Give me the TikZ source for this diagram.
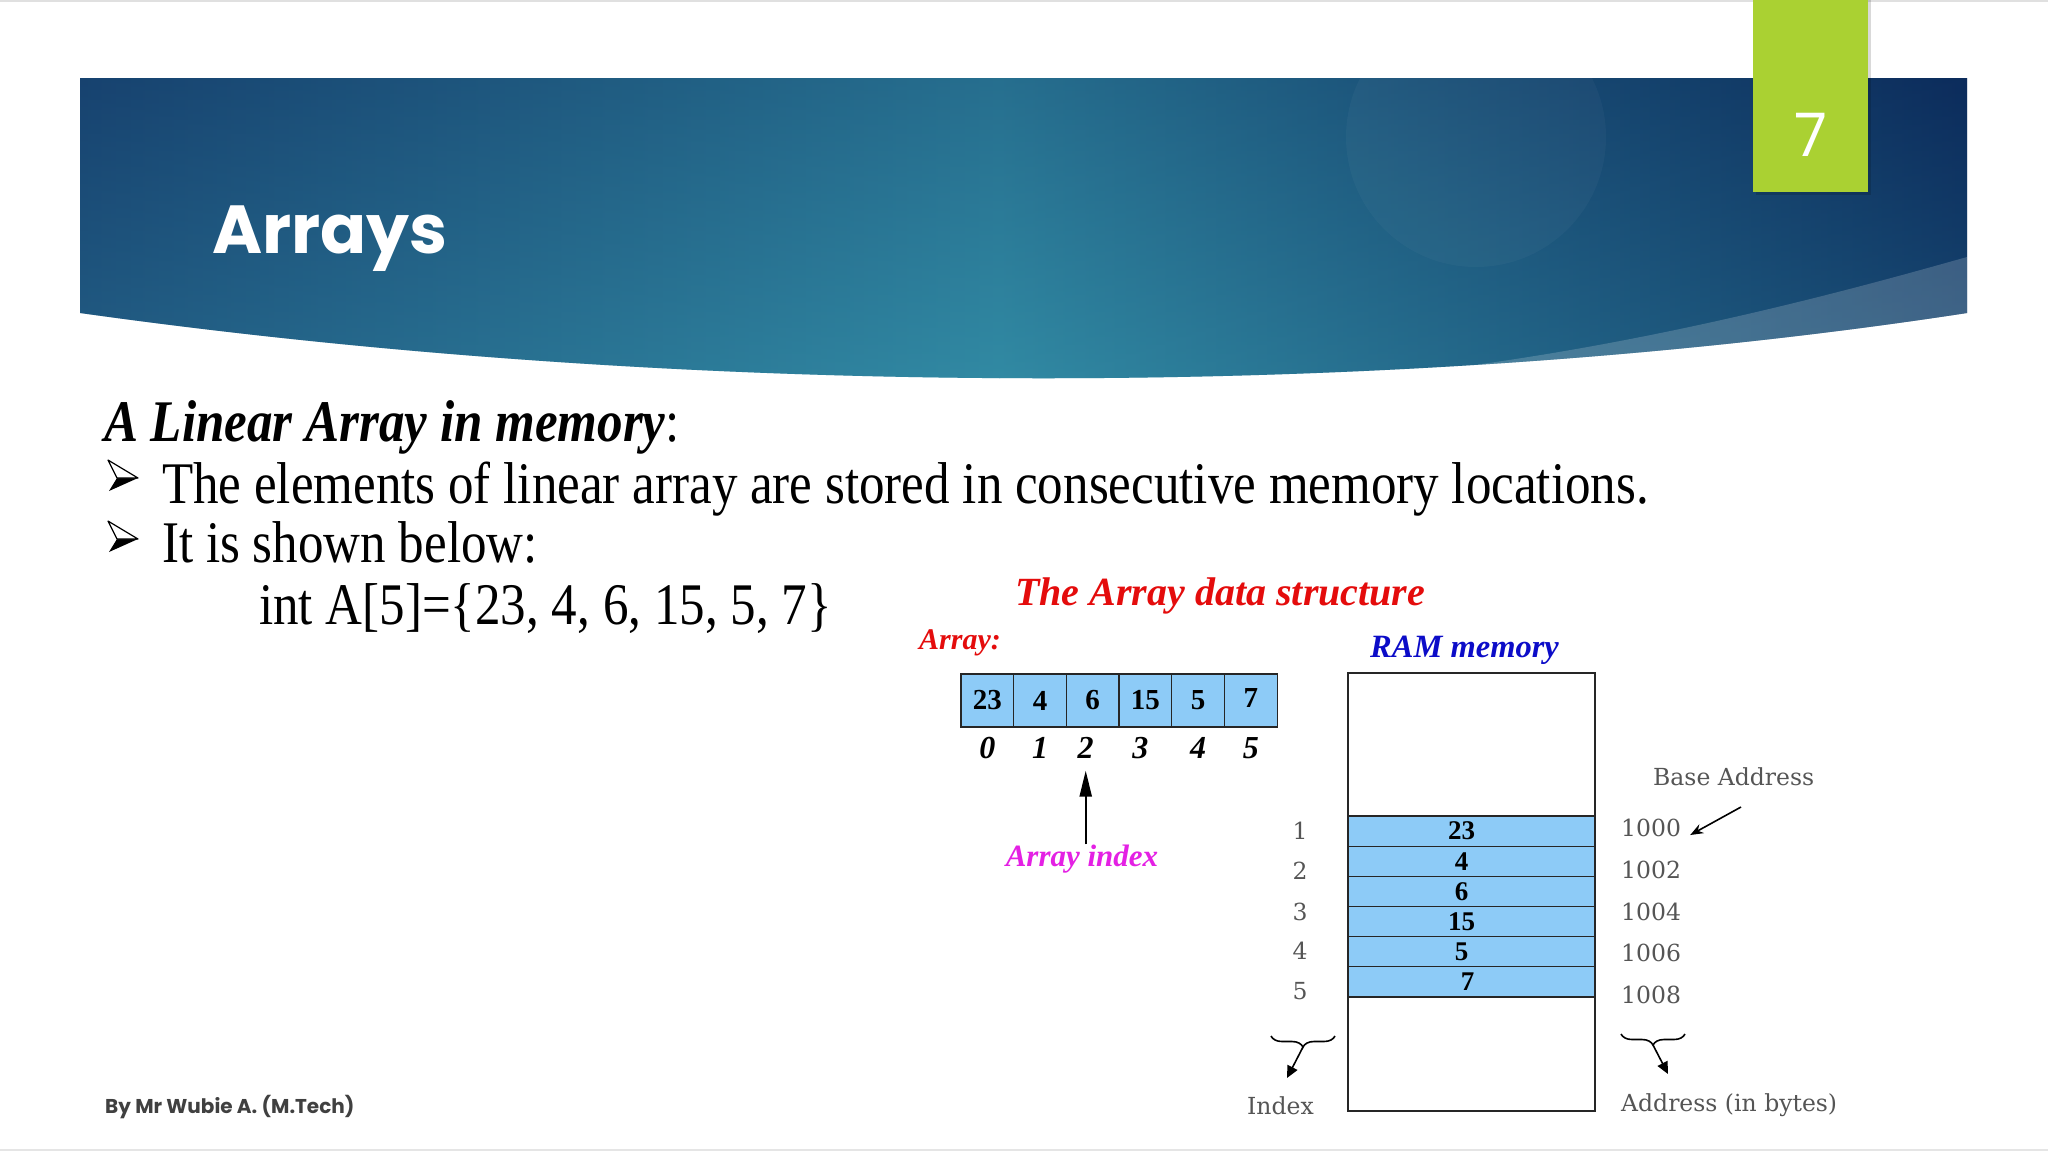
\documentclass[tikz,border=0pt]{standalone}
\usepackage{fontspec}
\usepackage{xcolor}
\usepackage{tikz}
\usetikzlibrary{arrows.meta, positioning, shapes, decorations.pathreplacing}
\setmainfont{Liberation Serif}
\newfontfamily\bodyfont[FakeStretch=0.865]{Liberation Serif}
\newfontfamily\slidefont{Poppins}
\newfontfamily\ramfont{DejaVu Serif}
\definecolor{cellblue}{RGB}{141,203,247}
\definecolor{titlered}{RGB}{228,12,12}
\definecolor{ramblue}{RGB}{12,12,200}
\definecolor{idxpink}{RGB}{228,32,228}
\definecolor{slidegreen}{RGB}{170,209,50}
\definecolor{bandleft}{RGB}{28,76,120}
\definecolor{bandmid}{RGB}{50,140,165}
\definecolor{bandright}{RGB}{12,44,92}
\definecolor{footgray}{RGB}{64,64,64}
\definecolor{labelgray}{RGB}{85,85,85}
\tikzset{cell/.style={draw=black!85, line width=1.2pt, fill=cellblue, minimum width=52.7pt, minimum height=53pt, inner sep=0pt, outer sep=0pt, font=\fontsize{29}{29}\selectfont\bfseries}}
\tikzset{ramrow/.style={draw=black!85, line width=1.2pt, fill=cellblue, minimum width=247pt, minimum height=30.17pt, inner sep=0pt, outer sep=0pt, font=\fontsize{27}{27}\selectfont\bfseries}}
\tikzset{index/.style={font=\fontsize{32}{32}\selectfont\bfseries\itshape, inner sep=0pt}}
\tikzset{memlabel/.style={font=\ramfont\fontsize{23.5}{23.5}\selectfont, text=labelgray, inner sep=0pt}}
\tikzset{bodyline/.style={anchor=base west, inner sep=0pt, font=\bodyfont\fontsize{59}{59}\selectfont}}
\tikzset{caption/.style={anchor=base west, inner sep=0pt}}
\tikzset{arrowbullet/.pic={
  \fill[black] (9,18) -- (30,18) -- (1,31) -- cycle;
  \draw[black, line width=1.2pt, fill=white, line join=round] (0,0) -- (30,18) -- (9,18) -- cycle;
}}

\begin{document}
\begin{tikzpicture}[x=1pt, y=-1pt]
  \useasboundingbox (0,0) rectangle (2048,1152);
  \fill[white] (0,0) rectangle (2048,1152);
  \draw[black!12, line width=2pt] (0,1) -- (2048,1);
  \draw[black!10, line width=2pt] (0,1150) -- (2048,1150);
  % Header band
  \begin{scope}
    \clip (80,78) -- (1967,78) -- (1967,313) .. controls (1400,400) and (700,400) .. (80,313) -- cycle;
    \shade[left color=bandleft, right color=bandmid] (80,78) rectangle (1000,400);
    \shade[left color=bandmid, right color=bandright] (999,78) rectangle (1967,400);
    \shade[top color=bandright, bottom color=bandmid, opacity=0.3] (80,78) rectangle (1967,400);
    \fill[white, opacity=0.03] (1476,137) circle (130);
    \fill[white, opacity=0.18] (1420,372) .. controls (1650,345) and (1850,290) .. (1967,257) -- (1967,400) -- (1420,400) -- cycle;
  \end{scope}
  \fill[black, opacity=0.15] (1756,0) rectangle (1871,195);
  \node[fill=slidegreen, minimum width=115pt, minimum height=192pt, inner sep=0pt] (pagebox) at (1810.5,96) {};
  \node[text=white, font=\slidefont\fontsize{60}{60}\selectfont] (pagenum) at (1810.5,135) {7};
  \node[anchor=base west, inner sep=0pt, text=white, font=\slidefont\bfseries\fontsize{68}{68}\selectfont] (title) at (212,253) {Arrays};
  % Text
  \node[bodyline] (heading) at (104,441) {{\bfseries\itshape A Linear Array in memory}:};
  \pic at (108,460) {arrowbullet};
  \node[bodyline] (line1) at (162,503) {The elements of linear array are stored in consecutive memory locations.};
  \pic at (108,521) {arrowbullet};
  \node[bodyline] (line2) at (162,562) {It is shown below:};
  \node[bodyline] (line3) at (259,624) {int A[5]=\{23, 4, 6, 15, 5, 7\}};
  \node[anchor=base west, inner sep=0pt, font=\slidefont\bfseries\fontsize{20}{20}\selectfont, text=footgray] (footer) at (105,1113) {By Mr Wubie A. (M.Tech)};
  % Array
  \node[caption, text=titlered, font=\fontsize{40}{40}\selectfont\bfseries\itshape] (dstitle) at (1015,605) {The Array data structure};
  \node[caption, text=titlered, font=\fontsize{30}{30}\selectfont\bfseries\itshape] (arrlabel) at (919,649) {Array:};
  \node[cell] (c0) at (987.3,700.5) {23};
  \node[cell, right=0pt of c0] (c1) {4};
  \node[cell, right=0pt of c1] (c2) {6};
  \node[cell, right=0pt of c2] (c3) {\raisebox{-4pt}{15}};
  \node[cell, right=0pt of c3] (c4) {5};
  \node[cell, right=0pt of c4] (c5) {\raisebox{5pt}{7}};
  \node[index, below=10pt of c0] (i0) {0};
  \node[index, below=10pt of c1] (i1) {1};
  \node[index, below=10pt of c2, xshift=-7pt] (i2) {2};
  \node[index, below=10pt of c3, xshift=-5pt] (i3) {3};
  \node[index, below=10pt of c4] (i4) {4};
  \node[index, below=10pt of c5] (i5) {5};
  \node[anchor=base, inner sep=0pt, font=\fontsize{31}{31}\selectfont\bfseries\itshape, text=idxpink] (arrindex) at (1082,866) {Array index};
  % RAM memory
  \node[caption, text=ramblue, font=\fontsize{32.5}{32.5}\selectfont\bfseries\itshape] (ramlabel) at (1370,657) {RAM memory};
  \node[draw=black!85, line width=1.2pt, minimum width=247pt, minimum height=438pt, inner sep=0pt] (ram) at (1471.5,892) {};
  \node[ramrow] (r1) at (1471.5,831.1) {23\hspace*{20pt}};
  \node[ramrow, below=0pt of r1] (r2) {4\hspace*{20pt}};
  \node[ramrow, below=0pt of r2] (r3) {6\hspace*{20pt}};
  \node[ramrow, below=0pt of r3] (r4) {15\hspace*{20pt}};
  \node[ramrow, below=0pt of r4] (r5) {5\hspace*{20pt}};
  \node[ramrow, below=0pt of r5] (r6) {7\hspace*{8pt}};
  \node[memlabel] (n1) at (1300,831) {1};
  \node[memlabel] (n2) at (1300,871) {2};
  \node[memlabel] (n3) at (1300,912) {3};
  \node[memlabel] (n4) at (1300,951) {4};
  \node[memlabel] (n5) at (1300,991) {5};
  \node[memlabel, anchor=west] (a0) at (1621,828) {1000};
  \node[memlabel, anchor=west] (a1) at (1621,870) {1002};
  \node[memlabel, anchor=west] (a2) at (1621,912) {1004};
  \node[memlabel, anchor=west] (a3) at (1621,953) {1006};
  \node[memlabel, anchor=west] (a4) at (1621,995) {1008};
  \node[memlabel, anchor=west] (base) at (1653,777) {Base Address};
  \node[memlabel, anchor=base west] (indexlbl) at (1247,1114) {Index};
  \node[memlabel, anchor=base west] (addrlbl) at (1621,1111) {Address (in bytes)};
  \coordinate (basetail) at (1741,807);
  \coordinate (ibl) at (1271,1036);
  \coordinate (ibr) at (1335,1036);
  \coordinate (itip) at (1303,1047);
  \coordinate (iend) at (1287,1078);
  \coordinate (abl) at (1621,1034);
  \coordinate (abr) at (1685,1034);
  \coordinate (atip) at (1653,1045);
  \coordinate (aend) at (1668,1074);
  % Arrows
  \draw[-{Triangle[length=26pt,width=12pt]}, line width=2.2pt, shorten >=12pt] (arrindex.north -| i2) -- (i2.south);
  \begin{scope}[every edge/.style={draw=black, line width=1.6pt}]
    \draw (basetail) edge[-{Stealth[length=13pt,width=10pt]}] ([xshift=9pt,yshift=-7pt]a0.east);
    \draw (itip) edge[-{Triangle[length=12pt,width=11pt]}] (iend);
    \draw (atip) edge[-{Triangle[length=12pt,width=11pt]}] (aend);
  \end{scope}
  \draw[decorate, decoration={brace, amplitude=11pt, mirror}, line width=1.6pt] (ibl) -- (ibr);
  \draw[decorate, decoration={brace, amplitude=11pt, mirror}, line width=1.6pt] (abl) -- (abr);
\end{tikzpicture}
\end{document}
